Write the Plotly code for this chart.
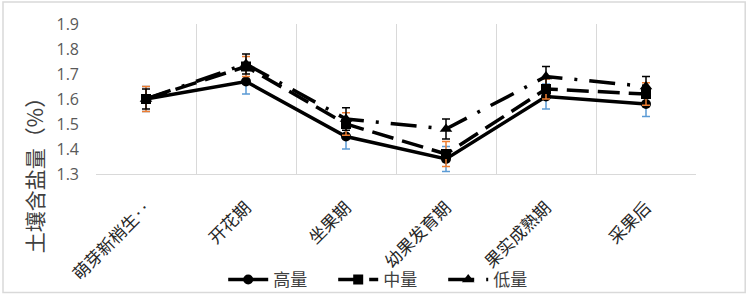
import plotly.graph_objects as go

categories = ["萌芽新梢生‥", "开花期", "坐果期", "幼果发育期", "果实成熟期", "采果后"]
high = [1.60, 1.67, 1.45, 1.36, 1.61, 1.58]
high_err = [0.05, 0.05, 0.05, 0.05, 0.05, 0.05]
mid = [1.60, 1.73, 1.50, 1.38, 1.64, 1.62]
mid_err = [0.05, 0.04, 0.045, 0.05, 0.04, 0.045]
low = [1.60, 1.74, 1.52, 1.48, 1.69, 1.65]
low_err = [0.04, 0.04, 0.045, 0.04, 0.04, 0.04]
yticks = [1.3, 1.4, 1.5, 1.6, 1.7, 1.8, 1.9]

CJK = "Noto Sans CJK SC"

fig = go.Figure()
fig.add_trace(go.Scatter(
    x=categories, y=high, name="高量", mode="lines+markers",
    line=dict(color="black", width=3.5),
    marker=dict(symbol="circle", size=10, color="black"),
    error_y=dict(type="data", array=high_err, color="#5B9BD5", thickness=1.5, width=4),
))
fig.add_trace(go.Scatter(
    x=categories, y=mid, name="中量", mode="lines+markers",
    line=dict(color="black", width=3.5, dash="22px,9px"),
    marker=dict(symbol="square", size=10, color="black"),
    error_y=dict(type="data", array=mid_err, color="#ED7D31", thickness=1.5, width=4),
))
fig.add_trace(go.Scatter(
    x=categories, y=low, name="低量", mode="lines+markers",
    line=dict(color="black", width=3.5, dash="26px,12px,3px,12px"),
    marker=dict(symbol="triangle-up", size=11, color="black"),
    error_y=dict(type="data", array=low_err, color="black", thickness=1.5, width=4),
))

fig.update_layout(
    width=748, height=295,
    margin=dict(l=96, r=52, t=24, b=121, autoexpand=False),
    paper_bgcolor="white", plot_bgcolor="white",
    font=dict(family=CJK, color="#404040"),
    showlegend=True,
    legend=dict(orientation="h", x=0.487, xanchor="center", yref="container", y=0.051, yanchor="middle",
                font=dict(size=17, family=CJK, color="#404040"),
                entrywidth=55, entrywidthmode="pixels",
                itemwidth=40, bgcolor="rgba(0,0,0,0)"),
    xaxis=dict(type="category", tickson="boundaries", showgrid=True, gridcolor="#d9d9d9",
               gridwidth=1, showline=True, linecolor="#d9d9d9", ticks="",
               tickangle=-45, tickfont=dict(size=17, family=CJK, color="#262626"),
               ticklabelstandoff=16, automargin=False,
               range=[-0.5, 5.5], zeroline=False),
    yaxis=dict(range=[1.3, 1.9], tickvals=yticks, ticktext=[f"{v:.1f}" for v in yticks],
               showgrid=False, showline=False, zeroline=False, ticks="", automargin=False,
               tickfont=dict(size=16, family="Open Sans", color="#595959"), ticklabelstandoff=16),
    annotations=[dict(text="土壤含盐量（%）", textangle=-90, xref="paper", yref="paper",
                      x=-0.103, y=0.027, xanchor="center", yanchor="middle", showarrow=False,
                      font=dict(size=21, family=CJK, color="#404040"))],
    shapes=[dict(type="rect", xref="paper", yref="paper", x0=-0.155, x1=1.082, y0=-0.79, y1=1.147,
                 line=dict(color="#d9d9d9", width=1.5))],
)

fig.write_html("out.html", config={"displayModeBar": False},
               post_script="document.body.style.margin='0';")
